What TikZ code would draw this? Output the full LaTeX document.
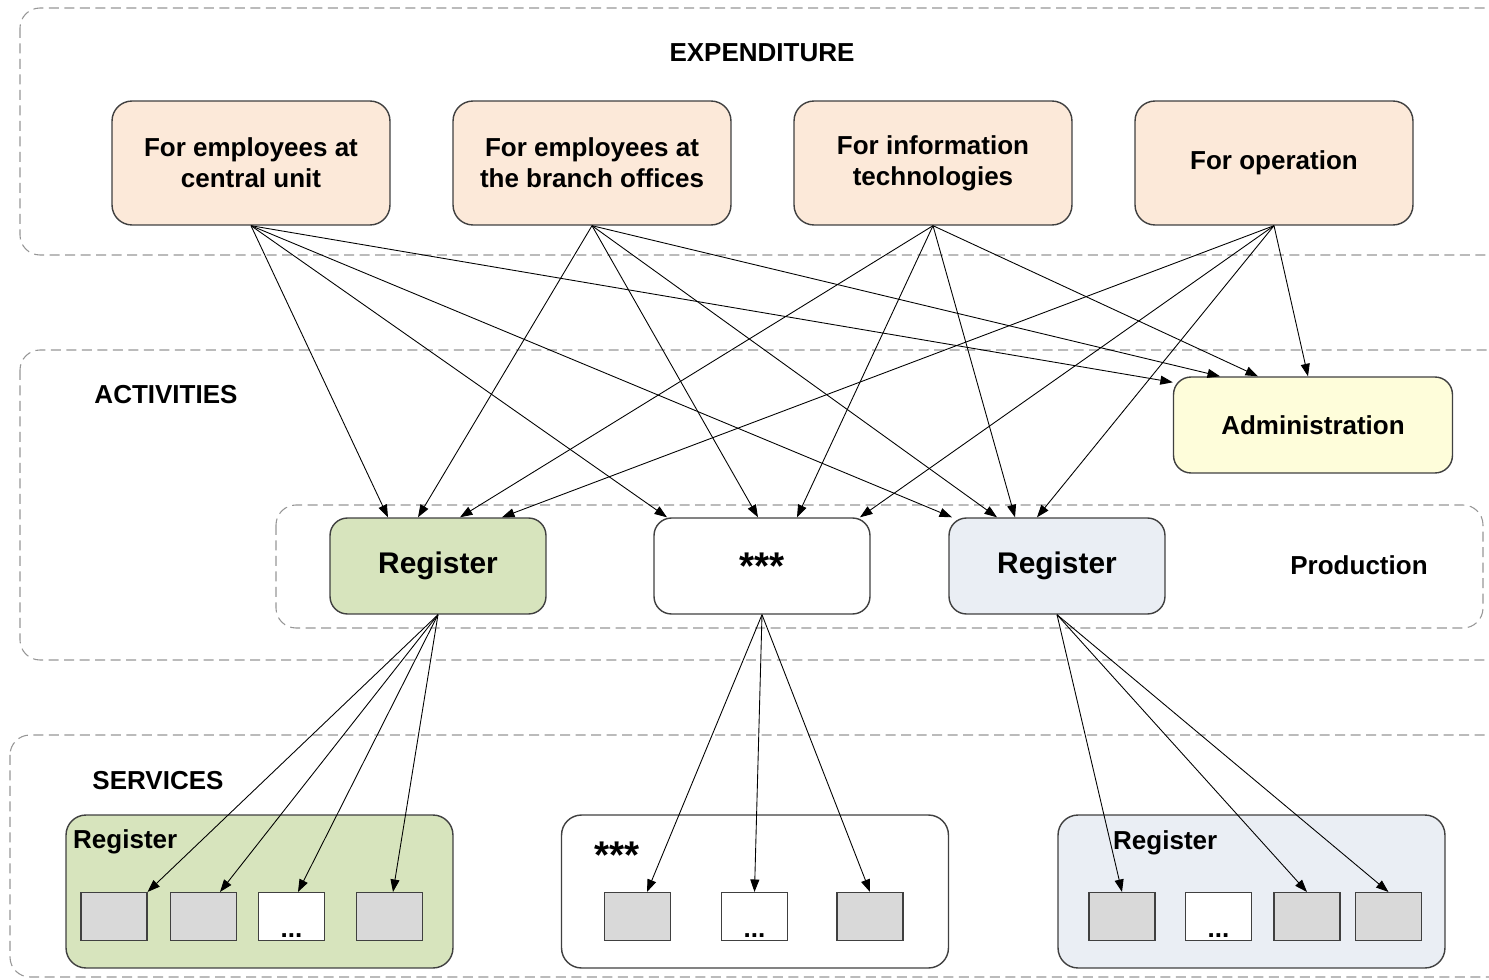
\documentclass[tikz,border=0pt]{standalone}
\usepackage{fontspec}
\setmainfont{Liberation Sans}
\usetikzlibrary{arrows.meta}

\definecolor{peach}{RGB}{252,233,217}
\definecolor{cream}{RGB}{254,253,218}
\definecolor{olivebg}{RGB}{215,228,189}
\definecolor{steelbg}{RGB}{234,238,244}
\definecolor{cellgray}{RGB}{217,217,217}
\definecolor{regiongray}{RGB}{150,150,150}
\definecolor{boxline}{RGB}{64,64,64}

\newcommand{\boxfont}{\fontsize{14.8}{17.6}\selectfont\bfseries}
\newcommand{\regfont}{\fontsize{17}{20}\selectfont\bfseries}
\newcommand{\starfont}{\fontsize{22}{24}\selectfont\bfseries}

\tikzset{
  region/.style={draw=regiongray, line width=0.6pt, dash pattern=on 0.2cm off 0.11cm, rounded corners=0.4cm},
  regionlabel/.style={font=\boxfont},
  expbox/.style={draw=boxline, line width=0.8pt, fill=peach, rounded corners=0.4cm,
    minimum width=5.56cm, minimum height=2.48cm, align=center, font=\boxfont},
  admbox/.style={draw=boxline, line width=0.8pt, fill=cream, rounded corners=0.35cm,
    minimum width=5.58cm, minimum height=1.92cm, font=\boxfont},
  regbox/.style={draw=boxline, line width=0.8pt, rounded corners=0.35cm,
    minimum width=4.32cm, minimum height=1.92cm, font=\regfont},
  grpbox/.style={draw=boxline, line width=0.8pt, rounded corners=0.4cm,
    minimum width=7.74cm, minimum height=3.06cm},
  cell/.style={draw=boxline, line width=0.6pt, fill=cellgray, minimum width=1.32cm, minimum height=0.96cm},
  blank/.style={cell, fill=white, label={[font=\boxfont, anchor=south, inner sep=2pt]south:...}},
  link/.style={-{Triangle[length=0.25cm,width=0.18cm]}, line width=0.5pt},
}

\begin{document}
\begin{tikzpicture}[x=0.02cm, y=-0.02cm]
  \useasboundingbox (0,0) rectangle (1489,980);
  % Regions
  \draw[region] (20,8) rectangle (1520,255);
  \draw[region] (20,350) rectangle (1520,660);
  \draw[region] (276,505) rectangle (1483,628);
  \draw[region] (10,735) rectangle (1520,977);
  % Expenditure
  \node[regionlabel] (expLbl) at (762,53) {EXPENDITURE};
  \node[expbox] (E1) at (251,163) {For employees at\\central unit};
  \node[expbox] (E2) at (592,163) {For employees at\\the branch offices};
  \node[expbox] (E3) at (933,163) {For information\\technologies};
  \node[expbox] (E4) at (1274,163) {For operation};
  % Activities
  \node[regionlabel] (actLbl) at (166,395) {ACTIVITIES};
  \node[admbox] (Adm) at (1313,425) {Administration};
  \node[regbox, fill=olivebg] (R1) at (438,566) {Register};
  \node[regbox, fill=white, font=\starfont] (R0) at (762,566) {***};
  \node[regbox, fill=steelbg] (R2) at (1057,566) {Register};
  \node[regionlabel] (prodLbl) at (1359,565) {Production};
  % Services
  \node[regionlabel] (srvLbl) at (158,781) {SERVICES};
  \node[grpbox, fill=olivebg] (G1) at (259.5,891.5) {};
  \node[grpbox, fill=white] (G0) at (755,891.5) {};
  \node[grpbox, fill=steelbg] (G2) at (1251.5,891.5) {};
  \node[regionlabel, anchor=west] (G1lbl) at (67,842) {Register};
  \node[regionlabel, font=\starfont, anchor=west] (G0lbl) at (588,855) {***};
  \node[regionlabel, anchor=west] (G2lbl) at (1107,843) {Register};
  \node[cell] (s11) at (114,916.5) {};
  \node[cell] (s12) at (203.5,916.5) {};
  \node[blank] (s13) at (291.5,916.5) {};
  \node[cell] (s14) at (389.5,916.5) {};
  \node[cell] (s21) at (637.5,916.5) {};
  \node[blank] (s22) at (754.5,916.5) {};
  \node[cell] (s23) at (870,916.5) {};
  \node[cell] (s31) at (1122,916.5) {};
  \node[blank] (s32) at (1218.5,916.5) {};
  \node[cell] (s33) at (1307,916.5) {};
  \node[cell] (s34) at (1388.5,916.5) {};
  % Expenditure to activities
  \foreach \src/\dst/\dx in {E1/R1/-1.0, E2/R1/-0.4, E3/R1/0.44, E4/R1/1.28,
      E1/R0/-1.9, E2/R0/-0.08, E3/R0/0.7, E4/R0/1.96,
      E1/R2/-2.1, E2/R2/-1.2, E3/R2/-0.84, E4/R2/-0.4,
      E2/Adm/-1.86, E3/Adm/-1.1, E4/Adm/-0.1}
    \draw[link] (\src.south) -- ([xshift=\dx cm]\dst.north);
  \draw[link] (E1.south) -- ([yshift=-0.12cm]Adm.north west);
  % Activities to services
  \draw[link] (R1.south) -- (s11.north east);
  \foreach \dst/\dx in {s12/0.33, s13/0.13, s14/0.07}
    \draw[link] (R1.south) -- ([xshift=\dx cm]\dst.north);
  \foreach \dst/\dx in {s21/0.19, s22/0, s23/0}
    \draw[link] (R0.south) -- ([xshift=\dx cm]\dst.north);
  \foreach \dst in {s31,s33,s34}
    \draw[link] (R2.south) -- (\dst.north);
\end{tikzpicture}
\end{document}
